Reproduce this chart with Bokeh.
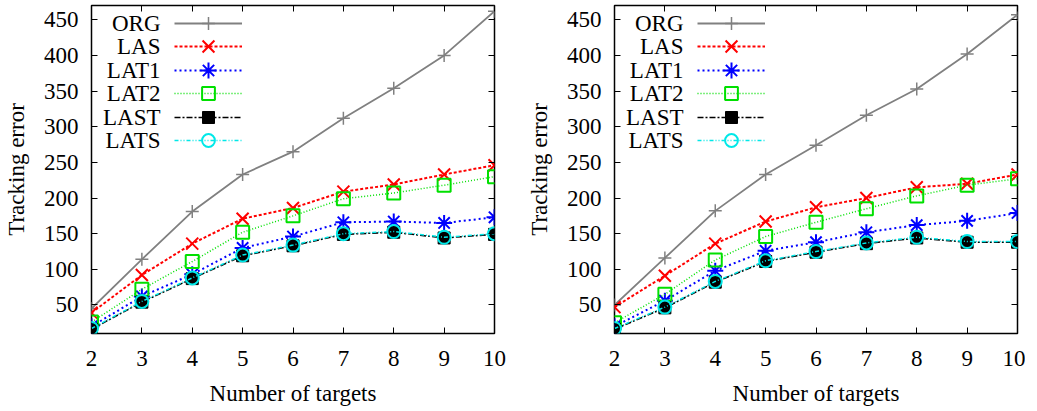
from bokeh.plotting import figure
from bokeh.layouts import row
from bokeh.models import Range1d, FixedTicker, LinearAxis, Legend, LegendItem, Label
from bokeh.embed import file_html
from bokeh.resources import INLINE

# ---------------- data ----------------
x_targets = [2, 3, 4, 5, 6, 7, 8, 9, 10]
y_ticks = [50, 100, 150, 200, 250, 300, 350, 400, 450]
series_names = ["ORG", "LAS", "LAT1", "LAT2", "LAST", "LATS"]

left_org = [45, 114, 181, 233, 265, 312, 354, 400, 462]
left_las = [39, 92, 136, 171, 186, 209, 219, 233, 246]
left_lat1 = [20, 62, 93, 130, 146, 166, 167, 165, 173]
left_lat2 = [26, 72, 111, 152, 175, 199, 207, 218, 230]
left_last = [16, 54, 87, 119, 133, 149, 152, 144, 149]
left_lats = [17, 55, 88, 120, 134, 150, 153, 145, 150]

right_org = [50, 116, 182, 233, 274, 316, 353, 402, 457]
right_las = [47, 91, 136, 167, 187, 200, 215, 220, 233]
right_lat1 = [20, 56, 98, 126, 138, 152, 162, 168, 179]
right_lat2 = [25, 65, 113, 146, 166, 185, 203, 218, 227]
right_last = [16, 46, 82, 111, 124, 136, 144, 138, 138]
right_lats = [17, 47, 83, 112, 125, 137, 145, 139, 139]

left_data = dict(zip(series_names, [left_org, left_las, left_lat1, left_lat2, left_last, left_lats]))
right_data = dict(zip(series_names, [right_org, right_las, right_lat1, right_lat2, right_last, right_lats]))

# ---------------- styles ----------------
FONT = "Liberation Serif"
FS = "23px"
FW, FH = 403, 328
# leg_h: height of the key sample box (Bokeh draws key markers at 0.4 x this)
STYLES = {
    "ORG":  dict(color="#808080", dash="solid", lw=1.8, marker="cross", size=13, mlw=1.5, fill=None, leg_h=32),
    "LAS":  dict(color="#ff0000", dash="3 2", lw=2.0, marker="x", size=17, mlw=2.0, fill=None, leg_h=42),
    "LAT1": dict(color="#0000ff", dash="2 3", lw=2.0, marker="asterisk", size=16, mlw=2.0, fill=None, leg_h=40),
    "LAT2": dict(color="#00e000", dash="1 2", lw=1.5, marker="square", size=13, mlw=2.0, fill=None, leg_h=32),
    "LAST": dict(color="#000000", dash="6 2 2 2", lw=1.5, marker="square", size=12, mlw=1.0, fill="#000000", leg_h=30),
    "LATS": dict(color="#00e8e8", dash="4 2 1 2 1 2", lw=1.5, marker="circle", size=13, mlw=2.0, fill=None, leg_h=32),
}
LEG_X = 83          # sample start, px from frame left
LEG_FIRST = 17.7    # first key row centre, px below frame top
LEG_PITCH = 23.5    # key row pitch
GLYPH_W = 68
TEXT_GAP = 14


def style_axis(ax, labels=True):
    ax.axis_line_color = None
    ax.major_tick_in = 6
    ax.major_tick_out = 0
    ax.minor_tick_in = 0
    ax.minor_tick_out = 0
    ax.major_tick_line_color = "black"
    ax.major_tick_line_width = 1
    ax.minor_tick_line_color = None
    if labels:
        ax.major_label_text_font = FONT
        ax.major_label_text_font_size = FS
        ax.major_label_text_color = "black"
        ax.axis_label_text_font = FONT
        ax.axis_label_text_font_size = FS
        ax.axis_label_text_font_style = "normal"
        ax.axis_label_text_color = "black"
    else:
        ax.major_label_text_color = None
        ax.major_label_text_font_size = "1px"
        ax.major_label_standoff = 0


def make_fig(data, left_border, right_border):
    p = figure(frame_width=FW, frame_height=FH,
               x_range=Range1d(2, 10), y_range=Range1d(10, 470),
               output_backend="svg", toolbar_location=None,
               min_border_left=left_border, min_border_right=right_border,
               min_border_top=5, min_border_bottom=60,
               x_axis_label="Number of targets", y_axis_label="Tracking error")
    p.grid.visible = False
    p.outline_line_color = "black"
    p.outline_line_width = 1.5
    p.background_fill_color = "white"
    p.border_fill_color = "white"

    xa, ya = p.xaxis[0], p.yaxis[0]
    xa.ticker = FixedTicker(ticks=x_targets)
    ya.ticker = FixedTicker(ticks=y_ticks)
    style_axis(xa)
    style_axis(ya)
    xa.major_label_standoff = 17
    xa.axis_label_standoff = 12
    ya.major_label_standoff = 13
    ya.axis_label_standoff = 12

    top = LinearAxis(ticker=FixedTicker(ticks=x_targets))
    style_axis(top, labels=False)
    p.add_layout(top, "above")
    rgt = LinearAxis(ticker=FixedTicker(ticks=y_ticks))
    style_axis(rgt, labels=False)
    p.add_layout(rgt, "right")

    for i, name in enumerate(series_names):
        st = STYLES[name]
        rl = p.line(x_targets, data[name], line_color=st["color"], line_width=st["lw"],
                    line_dash=st["dash"])
        rm = p.scatter(x_targets, data[name], marker=st["marker"], size=st["size"],
                       line_color=st["color"], line_width=st["mlw"],
                       fill_color=st["fill"])
        centre = FH - LEG_FIRST - i * LEG_PITCH
        gh = st["leg_h"]
        # one key row per legend: line + marker sample (its own label is not drawn)
        leg = Legend(items=[LegendItem(label=name, renderers=[rl, rm])],
                     location=(LEG_X, centre - gh / 2),
                     glyph_width=GLYPH_W, glyph_height=gh, spacing=0,
                     label_width=0, label_height=0, label_standoff=0,
                     label_text_color=None, label_text_font_size="8px",
                     padding=0, margin=0, border_line_color=None,
                     background_fill_alpha=0)
        p.add_layout(leg)
        # gnuplot-style key text, right-aligned in front of the sample
        p.add_layout(Label(x=LEG_X - TEXT_GAP, y=centre,
                           x_units="screen", y_units="screen", text=name,
                           text_align="right", text_baseline="middle",
                           text_font=FONT, text_font_size=FS, text_color="black"))
    return p


p1 = make_fig(left_data, 86, 29)
p2 = make_fig(right_data, 86, 8)
layout = row(p1, p2)

open("out.html", "w").write(file_html(layout, INLINE))
